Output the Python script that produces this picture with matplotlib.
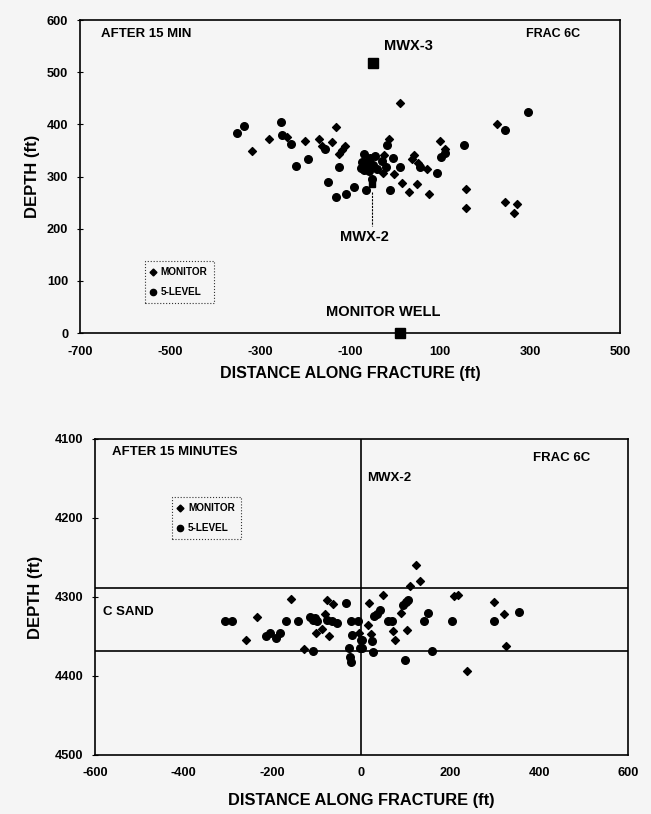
import matplotlib
matplotlib.use("Agg")
from matplotlib import pyplot as plt
from matplotlib.lines import Line2D

plt.rcParams['font.family'] = ['Liberation Sans', 'DejaVu Sans']
plt.rcParams['font.weight'] = 'bold'
plt.rcParams['axes.unicode_minus'] = False

# top panel: map view after 15 min (distance along fracture vs depth above ref)
top_monitor_x = [-317, -280, -239, -200, -169, -163, -139, -132, -111, -118, -124, 10, 226,
                 -14, 99, 43, 37, 70, 52, -2, -26, 16, 49, 31, 76, 158, 157, 244, 271, 264,
                 -24, 110, -60]
top_monitor_y = [348, 371, 375, 369, 372, 359, 366, 394, 358, 351, 343, 440, 401,
                 372, 369, 342, 334, 314, 326, 305, 306, 288, 286, 270, 266, 277, 240, 252, 247, 230,
                 341, 352, 324]
top_level5_x = [-352, -335, -254, -251, -231, -220, -193, -156, -124, -149, -131, -108, -91,
                -65, -52, -70, -74, -63, -55, -48, -68, -45, -40, -60, -17, 295, 244, 153,
                111, 102, 56, 11, 93, -11, -4, -30, -20, -75, -58]
top_level5_y = [383, 397, 404, 379, 363, 321, 333, 352, 319, 289, 261, 266, 279,
                275, 296, 343, 328, 318, 335, 322, 312, 340, 315, 330, 360, 424, 389, 360,
                346, 337, 318, 318, 306, 275, 335, 330, 318, 316, 310]
mwx3 = (-48, 518)
mwx2 = (-52, 285)
monitor_well = (10, 0)

# bottom panel: depth section after 15 minutes
bot_monitor_x = [-260, -236, -159, -102, -89, -81, -77, -63, -73, -129, 122, 132, 109, 49, 18,
                 90, 15, 70, 102, 21, 75, 238, 209, 217, 298, 322, 325, -5]
bot_monitor_y = [4355, 4325, 4303, 4345, 4341, 4321, 4304, 4309, 4350, 4366, 4260, 4280, 4286,
                 4297, 4308, 4320, 4335, 4343, 4342, 4347, 4354, 4394, 4299, 4297, 4306, 4321,
                 4362, 4345]
bot_level5_x = [-307, -291, -215, -206, -193, -183, -171, -144, -116, -110, -104, -101, -78,
                -67, -56, -35, -23, -7, -21, 2, -28, -26, -24, 1, -110, 94, 100, 105, 42, 34,
                28, 150, 141, 60, 69, 0, 23, -3, 27, 158, 98, 203, 298, 355]
bot_level5_y = [4331, 4331, 4349, 4346, 4352, 4345, 4331, 4331, 4325, 4329, 4327, 4331, 4329,
                4331, 4333, 4308, 4331, 4331, 4348, 4354, 4364, 4376, 4382, 4364, 4368, 4310,
                4306, 4304, 4316, 4321, 4324, 4320, 4331, 4331, 4331, 4354, 4356, 4365, 4370,
                4369, 4380, 4330, 4330, 4319]
c_sand_top = 4289
c_sand_bottom = 4368

bg = '#f5f5f5'
fig = plt.figure(figsize=(6.51, 8.14), dpi=100, facecolor=bg)

def legend_box(ax, loc):
    handles = [Line2D([], [], marker='D', color='k', ls='none', markersize=3.5),
               Line2D([], [], marker='o', color='k', ls='none', markersize=4.5)]
    leg = ax.legend(handles, ['MONITOR', '5-LEVEL'], loc='upper left', bbox_to_anchor=loc,
                    frameon=True, fancybox=False, prop={'size': 7.2, 'weight': 'bold'},
                    handlelength=0.5, handletextpad=0.5, borderpad=0.6, labelspacing=1.0,
                    borderaxespad=0)
    leg.get_frame().set_edgecolor('k')
    leg.get_frame().set_linewidth(0.8)
    leg.get_frame().set_linestyle(':')
    leg.get_frame().set_facecolor(bg)

# ---- top ----
ax1 = fig.add_axes([0.1229, 0.5909, 0.8295, 0.3845], facecolor=bg)
ax1.scatter(top_monitor_x, top_monitor_y, marker='D', s=16, c='k', zorder=3)
ax1.scatter(top_level5_x, top_level5_y, marker='o', s=30, c='k', zorder=3)
ax1.plot(*mwx3, marker='s', ms=7, color='k', ls='none', zorder=4)
ax1.plot(*monitor_well, marker='s', ms=7, color='k', ls='none', zorder=4, clip_on=False)
ax1.plot(*mwx2, marker='s', ms=5, color='k', ls='none', zorder=4)
ax1.plot([mwx2[0], mwx2[0]], [270, 205], color='k', lw=0.8, ls=(0, (2, 1)))
ax1.set_xlim(-700, 500)
ax1.set_ylim(0, 600)
ax1.set_xticks(range(-700, 501, 200))
ax1.set_yticks(range(0, 601, 100))
ax1.tick_params(axis='y', direction='inout', length=5, width=0.8, labelsize=9.2, pad=6)
ax1.tick_params(axis='x', length=0, labelsize=9.2, pad=9)
for s in ax1.spines.values():
    s.set_linewidth(1.2)
ax1.set_xlabel('DISTANCE ALONG FRACTURE (ft)', fontsize=11.5, fontweight='bold', labelpad=6)
ax1.set_ylabel('DEPTH (ft)', fontsize=12, fontweight='bold', labelpad=5)
ax1.text(-654, 573, 'AFTER 15 MIN', fontsize=9.5, va='center', ha='left')
ax1.text(412, 573, 'FRAC 6C', fontsize=9, va='center', ha='right')
ax1.text(-24, 551, 'MWX-3', fontsize=10.5, va='center', ha='left')
ax1.text(-67, 185, 'MWX-2', fontsize=10.5, va='center', ha='center')
ax1.text(-27, 40, 'MONITOR WELL', fontsize=10.5, va='center', ha='center')
legend_box(ax1, (0.12, 0.23))

# ---- bottom ----
ax2 = fig.add_axes([0.1459, 0.0725, 0.8187, 0.3882], facecolor=bg)
ax2.axhline(c_sand_top, color='k', lw=1.2)
ax2.axhline(c_sand_bottom, color='k', lw=1.2)
ax2.axvline(0, color='k', lw=1.2)
ax2.scatter(bot_monitor_x, bot_monitor_y, marker='D', s=16, c='k', zorder=3)
ax2.scatter(bot_level5_x, bot_level5_y, marker='o', s=30, c='k', zorder=3)
ax2.set_xlim(-600, 600)
ax2.set_ylim(4500, 4100)
ax2.set_xticks(range(-600, 601, 200))
ax2.set_yticks(range(4100, 4501, 100))
ax2.tick_params(axis='y', direction='inout', length=5, width=0.8, labelsize=9.2, pad=6)
ax2.tick_params(axis='x', length=0, labelsize=9.2, pad=9)
for s in ax2.spines.values():
    s.set_linewidth(1.2)
ax2.set_xlabel('DISTANCE ALONG FRACTURE (ft)', fontsize=11.8, fontweight='bold', labelpad=10)
ax2.set_ylabel('DEPTH (ft)', fontsize=12, fontweight='bold', labelpad=8)
ax2.text(-562, 4116, 'AFTER 15 MINUTES', fontsize=9.5, va='center', ha='left')
ax2.text(515, 4124, 'FRAC 6C', fontsize=9.5, va='center', ha='right')
ax2.text(12, 4149, 'MWX-2', fontsize=9.5, va='center', ha='left')
ax2.text(-583, 4319, 'C SAND', fontsize=9.5, va='center', ha='left')
legend_box(ax2, (0.1445, 0.816))

fig.savefig('out.png', dpi=100, facecolor=bg)
